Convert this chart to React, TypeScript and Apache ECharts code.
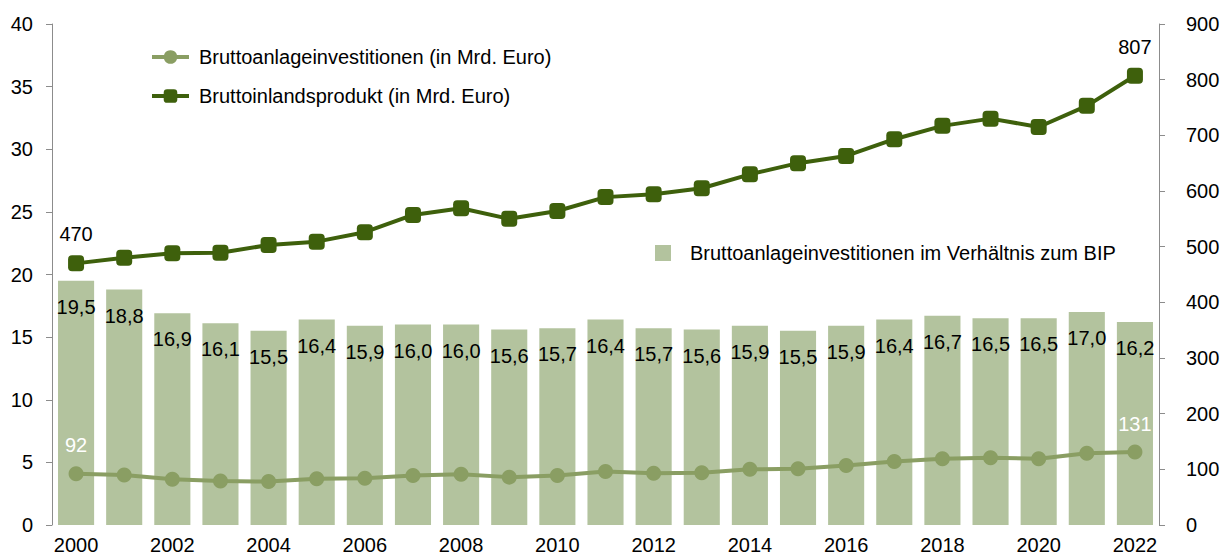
import React, { useEffect, useRef } from "react";
import * as echarts from "echarts";

const years = ["2000","2001","2002","2003","2004","2005","2006","2007","2008","2009","2010","2011","2012","2013","2014","2015","2016","2017","2018","2019","2020","2021","2022"];
const ratioBIP = [19.5,18.8,16.9,16.1,15.5,16.4,15.9,16.0,16.0,15.6,15.7,16.4,15.7,15.6,15.9,15.5,15.9,16.4,16.7,16.5,16.5,17.0,16.2];
const investments = [92,90,82,79,78,83,84,89,91,86,89,96,93,94,100,101,107,114,119,121,119,129,131];
const gdp = [470,480,488,489,503,509,526,557,569,550,564,589,594,605,630,650,663,693,717,730,715,753,807];
const leftTicks = { min: 0, max: 40, interval: 5 };
const rightTicks = { min: 0, max: 900, interval: 100 };

const NAME_INV = "Bruttoanlageinvestitionen (in Mrd. Euro)";
const NAME_GDP = "Bruttoinlandsprodukt (in Mrd. Euro)";
const NAME_RATIO = "Bruttoanlageinvestitionen im Verhältnis zum BIP";

const FONT = "'Liberation Sans', Arial, sans-serif";
const C_BAR = "#b3c39e";
const C_INV = "#8a9e63";
const C_GDP = "#3e600c";

function endLabels(values: number[], color: string) {
  return values.map((v, i) =>
    i === 0 || i === values.length - 1
      ? { value: v, label: { show: true, position: "top", distance: 11, color, fontSize: 20, fontFamily: FONT } }
      : v
  );
}

export default function App() {
  const ref = useRef<HTMLDivElement>(null);
  useEffect(() => {
    if (!ref.current) return;
    const chart = echarts.init(ref.current, null, { renderer: "svg" });
    const axisLabel = { color: "#000", fontSize: 20, fontFamily: FONT };
    chart.setOption({
      animation: false,
      textStyle: { fontFamily: FONT },
      grid: { left: 52, right: 68, top: 24, bottom: 30, containLabel: false },
      legend: [
        {
          data: [NAME_INV, NAME_GDP],
          orient: "vertical",
          left: 145,
          top: 42,
          itemWidth: 37,
          itemHeight: 17,
          itemGap: 19,
          lineStyle: { width: 4 },
          textStyle: { fontSize: 20, color: "#000", fontFamily: FONT, padding: [0, 0, 0, 5] },
        },
        {
          data: [{ name: NAME_RATIO, icon: "rect" }],
          left: 650,
          top: 238,
          itemWidth: 16,
          itemHeight: 16,
          textStyle: { fontSize: 20, color: "#000", fontFamily: FONT, padding: [0, 0, 0, 14] },
        },
      ],
      xAxis: {
        type: "category",
        data: years,
        axisLine: { show: false },
        axisTick: { show: false },
        axisLabel: { ...axisLabel, interval: 1, margin: 10 },
      },
      yAxis: [
        {
          type: "value",
          ...leftTicks,
          position: "left",
          axisLine: { show: true, lineStyle: { color: "#8c8c8c", width: 1 } },
          axisTick: { show: true, length: 6, lineStyle: { color: "#8c8c8c" } },
          splitLine: { show: false },
          axisLabel: { ...axisLabel, margin: 19 },
        },
        {
          type: "value",
          ...rightTicks,
          position: "right",
          axisLine: { show: true, lineStyle: { color: "#8c8c8c", width: 1 } },
          axisTick: { show: true, length: 6, lineStyle: { color: "#8c8c8c" } },
          splitLine: { show: false },
          axisLabel: { ...axisLabel, margin: 27 },
        },
      ],
      series: [
        {
          name: NAME_RATIO,
          type: "bar",
          yAxisIndex: 0,
          data: ratioBIP,
          barCategoryGap: "25%",
          itemStyle: { color: C_BAR },
          label: {
            show: true,
            position: "insideTop",
            distance: 16,
            color: "#000",
            fontSize: 20,
            fontFamily: FONT,
            formatter: (p: any) => Number(p.value).toFixed(1).replace(".", ","),
          },
        },
        {
          name: NAME_INV,
          type: "line",
          yAxisIndex: 1,
          data: endLabels(investments, "#ffffff"),
          symbol: "circle",
          symbolSize: 15,
          lineStyle: { color: C_INV, width: 4 },
          itemStyle: { color: C_INV },
          label: { show: false },
          z: 3,
        },
        {
          name: NAME_GDP,
          type: "line",
          yAxisIndex: 1,
          data: endLabels(gdp, "#000000"),
          symbol: "roundRect",
          symbolSize: 16,
          lineStyle: { color: C_GDP, width: 4 },
          itemStyle: { color: C_GDP },
          label: { show: false },
          z: 4,
        },
      ],
    });
    return () => chart.dispose();
  }, []);
  return (
    <div
      ref={ref}
      style={{ position: "fixed", left: 0, top: 0, width: 1227, height: 555, background: "#fff" }}
    />
  );
}
